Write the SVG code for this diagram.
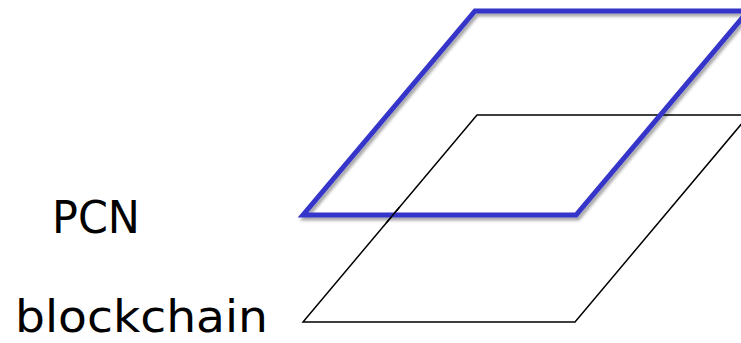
<svg xmlns="http://www.w3.org/2000/svg" width="741" height="343" viewBox="0 0 741 343">
<defs>
<style>
.lbl{font-family:"DejaVu Sans","Noto Sans",sans-serif;font-size:45px;fill:#000}
.blk{fill:none;stroke:#000;stroke-width:1.5;stroke-linejoin:miter}
.blu{fill:none;stroke:#3535c9;stroke-width:5;stroke-linejoin:miter}
</style>
<filter id="sh" x="-10%" y="-10%" width="130%" height="130%">
<feDropShadow dx="2" dy="3" stdDeviation="1.5" flood-color="#000" flood-opacity="0.35"/>
</filter>
</defs>
<rect width="741" height="343" fill="#fff"/>
<g id="blockchain-layer">
<polygon class="blk" points="477,115 749,115 575,322 303,322"/>
</g>
<g id="pcn-layer">
<polygon class="blu" filter="url(#sh)" points="475,11 748,11 576,215 303,215"/>
</g>
<g id="blockchain-layer-overlap">
<line class="blk" x1="386.2" y1="223" x2="399.6" y2="207"/>
</g>
<g id="label-pcn">
<text class="lbl" x="52" y="233" textLength="88" lengthAdjust="spacingAndGlyphs">PCN</text>
</g>
<g id="label-blockchain">
<text class="lbl" x="15" y="332" textLength="253" lengthAdjust="spacingAndGlyphs">blockchain</text>
</g>
</svg>
